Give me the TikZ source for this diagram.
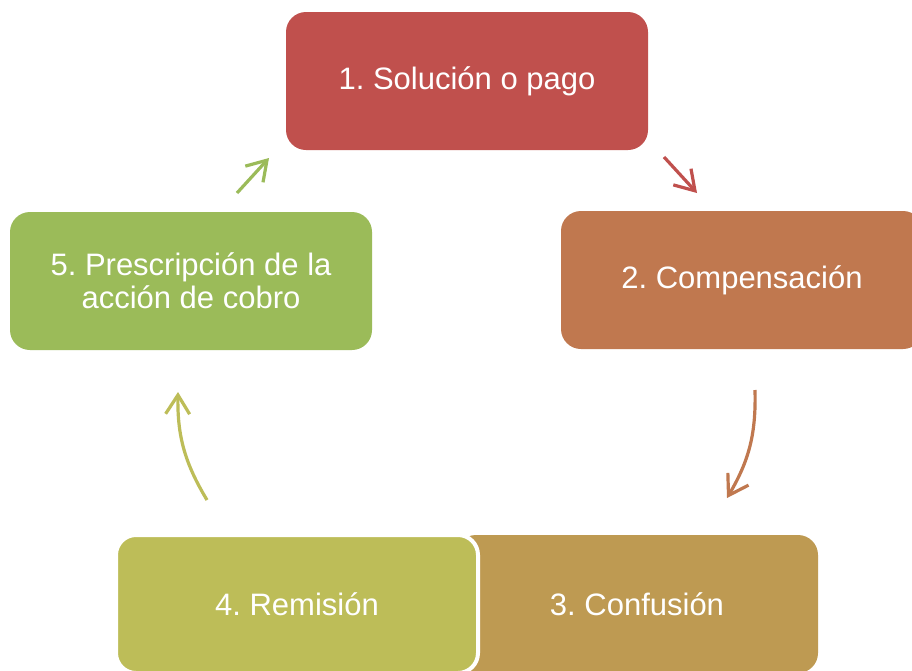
\documentclass[tikz,border=0pt]{standalone}
\usepackage{fontspec}
\setmainfont{Liberation Sans}
\usetikzlibrary{arrows.meta}
\definecolor{cA}{HTML}{C0504D}
\definecolor{cB}{HTML}{C0784F}
\definecolor{cC}{HTML}{BE9A52}
\definecolor{cD}{HTML}{BDBD58}
\definecolor{cE}{HTML}{9BBB59}
\tikzset{
  stepbox/.style={rounded corners=20pt, minimum width=362pt, minimum height=138pt,
    inner sep=0pt, text=white, font=\fontsize{31}{33}\selectfont, align=center},
  cyc/.style={line width=3.2pt, -{Straight Barb[length=19pt,width=24pt]}}
}
\frenchspacing
\begin{document}
\begin{tikzpicture}[x=1pt,y=-1pt]
\clip (0,0) rectangle (912,670);
\fill[white] (0,0) rectangle (912,670);
\node[stepbox, fill=cA] (n1) at (467,81) {1. Solución o pago};
\node[stepbox, fill=cB] (n2) at (742,280) {2. Compensación};
\node[stepbox, fill=cC] (n3) at (637,604) {3. Confusión};
\node[stepbox, fill=cD, draw=white, line width=4pt] (n4) at (297,604) {4. Remisión};
\node[stepbox, fill=cE] (n5) at (191,281) {5. Prescripción de la\\acción de cobro};
\coordinate (a1s) at (664,157);
\coordinate (a1e) at (697,193);
\coordinate (a2s) at (755,390);
\coordinate (a2e) at (727,498);
\coordinate (a4s) at (207,500);
\coordinate (a4e) at (178,392);
\coordinate (a5s) at (237,193);
\coordinate (a5e) at (269,158);
\draw[cyc, cA] (a1s) -- (a1e);
\draw[cyc, cB] (a2s) to[bend left=16] (a2e);
\draw[cyc, cD] (a4s) to[bend left=16] (a4e);
\draw[cyc, cE] (a5s) -- (a5e);
\end{tikzpicture}
\end{document}
